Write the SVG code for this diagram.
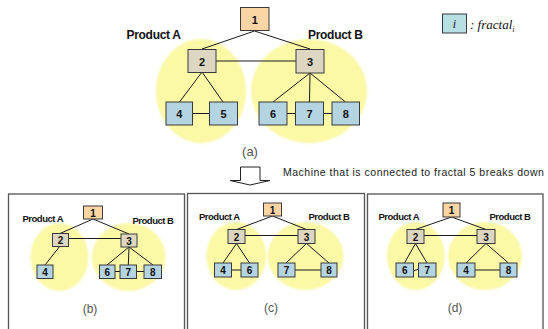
<svg xmlns="http://www.w3.org/2000/svg" width="548" height="329" viewBox="0 0 548 329">
<defs>
<filter id="soft" x="-20%" y="-20%" width="140%" height="140%"><feGaussianBlur stdDeviation="1.2"/></filter>
</defs>
<style>
.bg{fill:#ffffff}
.blob{fill:#fbf8a6;filter:url(#soft)}
.n1{fill:#fbd5a3;stroke:#3a3a3a;stroke-width:1}
.n2{fill:#ddd7c2;stroke:#3a3a3a;stroke-width:1}
.nb{fill:#b4d4e1;stroke:#3a3a3a;stroke-width:1}
.ln{stroke:#1a1a1a;stroke-width:1;fill:none}
.lab{font-family:"Liberation Sans",Arial,sans-serif;font-weight:bold;fill:#111;text-anchor:middle}
.prod{font-family:"Liberation Sans",Arial,sans-serif;font-weight:bold;fill:#111}
.cap{font-family:"Liberation Sans",Arial,sans-serif;fill:#555;text-anchor:middle}
.panel{fill:none;stroke:#555;stroke-width:1.3}
.note{font-family:"Liberation Sans",Arial,sans-serif;font-size:10.5px;fill:#222}
.legt{font-family:"Liberation Serif","Times New Roman",serif;font-style:italic;fill:#111}
</style>
<rect class="bg" x="0" y="0" width="548" height="329"/>

<!-- ===== (a) ===== -->
<g id="blobs-a">
<ellipse class="blob" cx="201" cy="91" rx="45" ry="52"/>
<ellipse class="blob" cx="309" cy="91" rx="58" ry="52"/>
</g>
<g id="connectors-a">
<line class="ln" x1="254.5" y1="31" x2="202" y2="49"/>
<line class="ln" x1="254.5" y1="31" x2="310" y2="49"/>
<line class="ln" x1="216" y1="61" x2="296" y2="61"/>
<line class="ln" x1="202" y1="72" x2="179.5" y2="102"/>
<line class="ln" x1="202" y1="72" x2="223" y2="102"/>
<line class="ln" x1="193" y1="113.5" x2="209" y2="113.5"/>
<line class="ln" x1="310" y1="73" x2="273" y2="102"/>
<line class="ln" x1="310" y1="73" x2="309.5" y2="102"/>
<line class="ln" x1="310" y1="73" x2="345.5" y2="102"/>
<line class="ln" x1="287" y1="113.5" x2="295.5" y2="113.5"/>
<line class="ln" x1="323" y1="113.5" x2="332" y2="113.5"/>
</g>
<g id="a-node1"><rect class="n1" x="240.5" y="7.5" width="28.5" height="23"/><text class="lab" x="254.8" y="24" font-size="11">1</text></g>
<g id="a-node2"><rect class="n2" x="188" y="49.5" width="28" height="23"/><text class="lab" x="202" y="65.5" font-size="11">2</text></g>
<g id="a-node3"><rect class="n2" x="296" y="49.5" width="28" height="23.5"/><text class="lab" x="310" y="65.5" font-size="11">3</text></g>
<g id="a-node4"><rect class="nb" x="166" y="102" width="26.5" height="23"/><text class="lab" x="179.3" y="118" font-size="11">4</text></g>
<g id="a-node5"><rect class="nb" x="209.5" y="102" width="28" height="23"/><text class="lab" x="223.5" y="118" font-size="11">5</text></g>
<g id="a-node6"><rect class="nb" x="259" y="102" width="28" height="23"/><text class="lab" x="273" y="118" font-size="11">6</text></g>
<g id="a-node7"><rect class="nb" x="295.5" y="102" width="28" height="23"/><text class="lab" x="309.5" y="118" font-size="11">7</text></g>
<g id="a-node8"><rect class="nb" x="332" y="102" width="27.5" height="23"/><text class="lab" x="345.8" y="118" font-size="11">8</text></g>
<text class="prod" x="126.5" y="38.5" font-size="12" letter-spacing="-0.3">Product A</text>
<text class="prod" x="308" y="38.5" font-size="12" letter-spacing="-0.3">Product B</text>
<text class="cap" x="250" y="156" font-size="13">(a)</text>

<!-- legend -->
<g id="legend">
<rect x="442.5" y="14" width="24" height="19" fill="#b7dfe4" stroke="#3a3a3a" stroke-width="1"/>
<text class="legt" x="454.5" y="28" font-size="12" text-anchor="middle">i</text>
<text class="legt" x="470" y="29" font-size="13">: fractal<tspan font-size="8" dy="3">i</tspan></text>
</g>

<!-- arrow and note -->
<g id="arrow">
<polygon points="240.5,167 260,167 260,180.5 270,180.5 250,185 230,180.5 240.5,180.5" fill="#ffffff" stroke="#222" stroke-width="1"/>
</g>
<text class="note" x="283" y="176" letter-spacing="0.5">Machine that is connected to fractal 5 breaks down</text>

<!-- panels -->
<rect class="panel" x="8.5" y="194" width="176" height="140"/>
<rect class="panel" x="187.5" y="193.5" width="177" height="140"/>
<rect class="panel" x="367.5" y="194" width="175.5" height="140"/>

<!-- ===== (b) ===== -->
<g id="blobs-b">
<ellipse class="blob" cx="59.5" cy="257" rx="29" ry="34"/>
<ellipse class="blob" cx="128.7" cy="257" rx="37" ry="34"/>
</g>
<g id="connectors-b">
<line class="ln" x1="93" y1="219" x2="60" y2="233.5"/>
<line class="ln" x1="93" y1="219" x2="129" y2="234"/>
<line class="ln" x1="68" y1="238.5" x2="121" y2="238.5"/>
<line class="ln" x1="60" y1="246" x2="45" y2="265"/>
<line class="ln" x1="129" y1="247" x2="107" y2="265"/>
<line class="ln" x1="129" y1="247" x2="128.3" y2="265"/>
<line class="ln" x1="129" y1="247" x2="153" y2="265"/>
<line class="ln" x1="115" y1="271.5" x2="120" y2="271.5"/>
<line class="ln" x1="136.5" y1="271.5" x2="144" y2="271.5"/>
</g>
<g id="b-node1"><rect class="n1" x="83.5" y="206" width="19" height="13"/><text class="lab" x="93" y="216.5" font-size="10">1</text></g>
<g id="b-node2"><rect class="n2" x="52.5" y="233.5" width="16" height="13"/><text class="lab" x="60.5" y="244" font-size="10">2</text></g>
<g id="b-node3"><rect class="n2" x="121" y="234" width="16" height="13"/><text class="lab" x="129" y="244.5" font-size="10">3</text></g>
<g id="b-node4"><rect class="nb" x="37" y="265" width="16" height="13.5"/><text class="lab" x="45" y="275.5" font-size="10">4</text></g>
<g id="b-node6"><rect class="nb" x="99.5" y="265" width="15.5" height="13.5"/><text class="lab" x="107.3" y="275.5" font-size="10">6</text></g>
<g id="b-node7"><rect class="nb" x="120" y="265" width="16.5" height="13.5"/><text class="lab" x="128.3" y="275.5" font-size="10">7</text></g>
<g id="b-node8"><rect class="nb" x="144" y="265" width="17.5" height="13.5"/><text class="lab" x="152.8" y="275.5" font-size="10">8</text></g>
<text class="prod" x="22.5" y="221.5" font-size="9.5" letter-spacing="-0.5">Product A</text>
<text class="prod" x="132.5" y="223.5" font-size="9.5" letter-spacing="-0.5">Product B</text>
<text class="cap" x="90" y="313" font-size="12">(b)</text>

<!-- ===== (c) ===== -->
<g id="blobs-c">
<ellipse class="blob" cx="236.3" cy="256" rx="30" ry="34"/>
<ellipse class="blob" cx="305.5" cy="256" rx="38" ry="34"/>
</g>
<g id="connectors-c">
<line class="ln" x1="272.5" y1="216" x2="236.5" y2="229.5"/>
<line class="ln" x1="272.5" y1="216" x2="306.5" y2="229.5"/>
<line class="ln" x1="245" y1="235.5" x2="298" y2="235.5"/>
<line class="ln" x1="236.5" y1="243.5" x2="223" y2="263"/>
<line class="ln" x1="236.5" y1="243.5" x2="249.5" y2="263"/>
<line class="ln" x1="231.5" y1="270" x2="241" y2="270"/>
<line class="ln" x1="306.5" y1="243.5" x2="286" y2="263"/>
<line class="ln" x1="306.5" y1="243.5" x2="329" y2="263"/>
<line class="ln" x1="295" y1="270" x2="321" y2="270"/>
</g>
<g id="c-node1"><rect class="n1" x="263.5" y="203" width="18" height="13"/><text class="lab" x="272.5" y="213.5" font-size="10">1</text></g>
<g id="c-node2"><rect class="n2" x="228" y="229.5" width="17" height="14"/><text class="lab" x="236.5" y="240.5" font-size="10">2</text></g>
<g id="c-node3"><rect class="n2" x="298" y="229.5" width="17" height="14"/><text class="lab" x="306.5" y="240.5" font-size="10">3</text></g>
<g id="c-node4"><rect class="nb" x="214.5" y="263" width="17" height="14"/><text class="lab" x="223" y="274" font-size="10">4</text></g>
<g id="c-node6"><rect class="nb" x="241" y="263" width="17" height="14"/><text class="lab" x="249.5" y="274" font-size="10">6</text></g>
<g id="c-node7"><rect class="nb" x="278" y="263" width="17" height="14"/><text class="lab" x="286.5" y="274" font-size="10">7</text></g>
<g id="c-node8"><rect class="nb" x="321" y="263" width="16" height="14"/><text class="lab" x="329" y="274" font-size="10">8</text></g>
<text class="prod" x="199" y="220" font-size="9.5" letter-spacing="-0.5">Product A</text>
<text class="prod" x="308.5" y="220" font-size="9.5" letter-spacing="-0.5">Product B</text>
<text class="cap" x="271" y="311.5" font-size="12">(c)</text>

<!-- ===== (d) ===== -->
<g id="blobs-d">
<ellipse class="blob" cx="415.8" cy="256" rx="29" ry="34"/>
<ellipse class="blob" cx="485" cy="256" rx="37" ry="34"/>
</g>
<g id="connectors-d">
<line class="ln" x1="451.5" y1="217" x2="415.5" y2="229.5"/>
<line class="ln" x1="451.5" y1="217" x2="486" y2="229.5"/>
<line class="ln" x1="424" y1="235.5" x2="477" y2="235.5"/>
<line class="ln" x1="415.5" y1="243.5" x2="404.5" y2="263"/>
<line class="ln" x1="415.5" y1="243.5" x2="427" y2="263"/>
<line class="ln" x1="413.5" y1="271" x2="418.5" y2="269"/>
<line class="ln" x1="486" y1="243.5" x2="466" y2="263"/>
<line class="ln" x1="486" y1="243.5" x2="508.5" y2="263"/>
<line class="ln" x1="475" y1="270" x2="500" y2="270"/>
</g>
<g id="d-node1"><rect class="n1" x="443" y="203" width="17" height="14"/><text class="lab" x="451.5" y="214" font-size="10">1</text></g>
<g id="d-node2"><rect class="n2" x="407" y="229.5" width="17" height="14"/><text class="lab" x="415.5" y="240.5" font-size="10">2</text></g>
<g id="d-node3"><rect class="n2" x="477" y="229.5" width="18" height="14"/><text class="lab" x="486" y="240.5" font-size="10">3</text></g>
<g id="d-node6"><rect class="nb" x="396" y="263" width="17.5" height="14"/><text class="lab" x="404.7" y="274" font-size="10">6</text></g>
<g id="d-node7"><rect class="nb" x="418.5" y="263" width="17.5" height="14"/><text class="lab" x="427.2" y="274" font-size="10">7</text></g>
<g id="d-node4"><rect class="nb" x="457" y="263" width="18" height="14"/><text class="lab" x="466" y="274" font-size="10">4</text></g>
<g id="d-node8"><rect class="nb" x="500" y="263" width="17" height="14"/><text class="lab" x="508.5" y="274" font-size="10">8</text></g>
<text class="prod" x="378.5" y="220" font-size="9.5" letter-spacing="-0.5">Product A</text>
<text class="prod" x="489.5" y="220" font-size="9.5" letter-spacing="-0.5">Product B</text>
<text class="cap" x="455" y="311.5" font-size="12">(d)</text>
</svg>
